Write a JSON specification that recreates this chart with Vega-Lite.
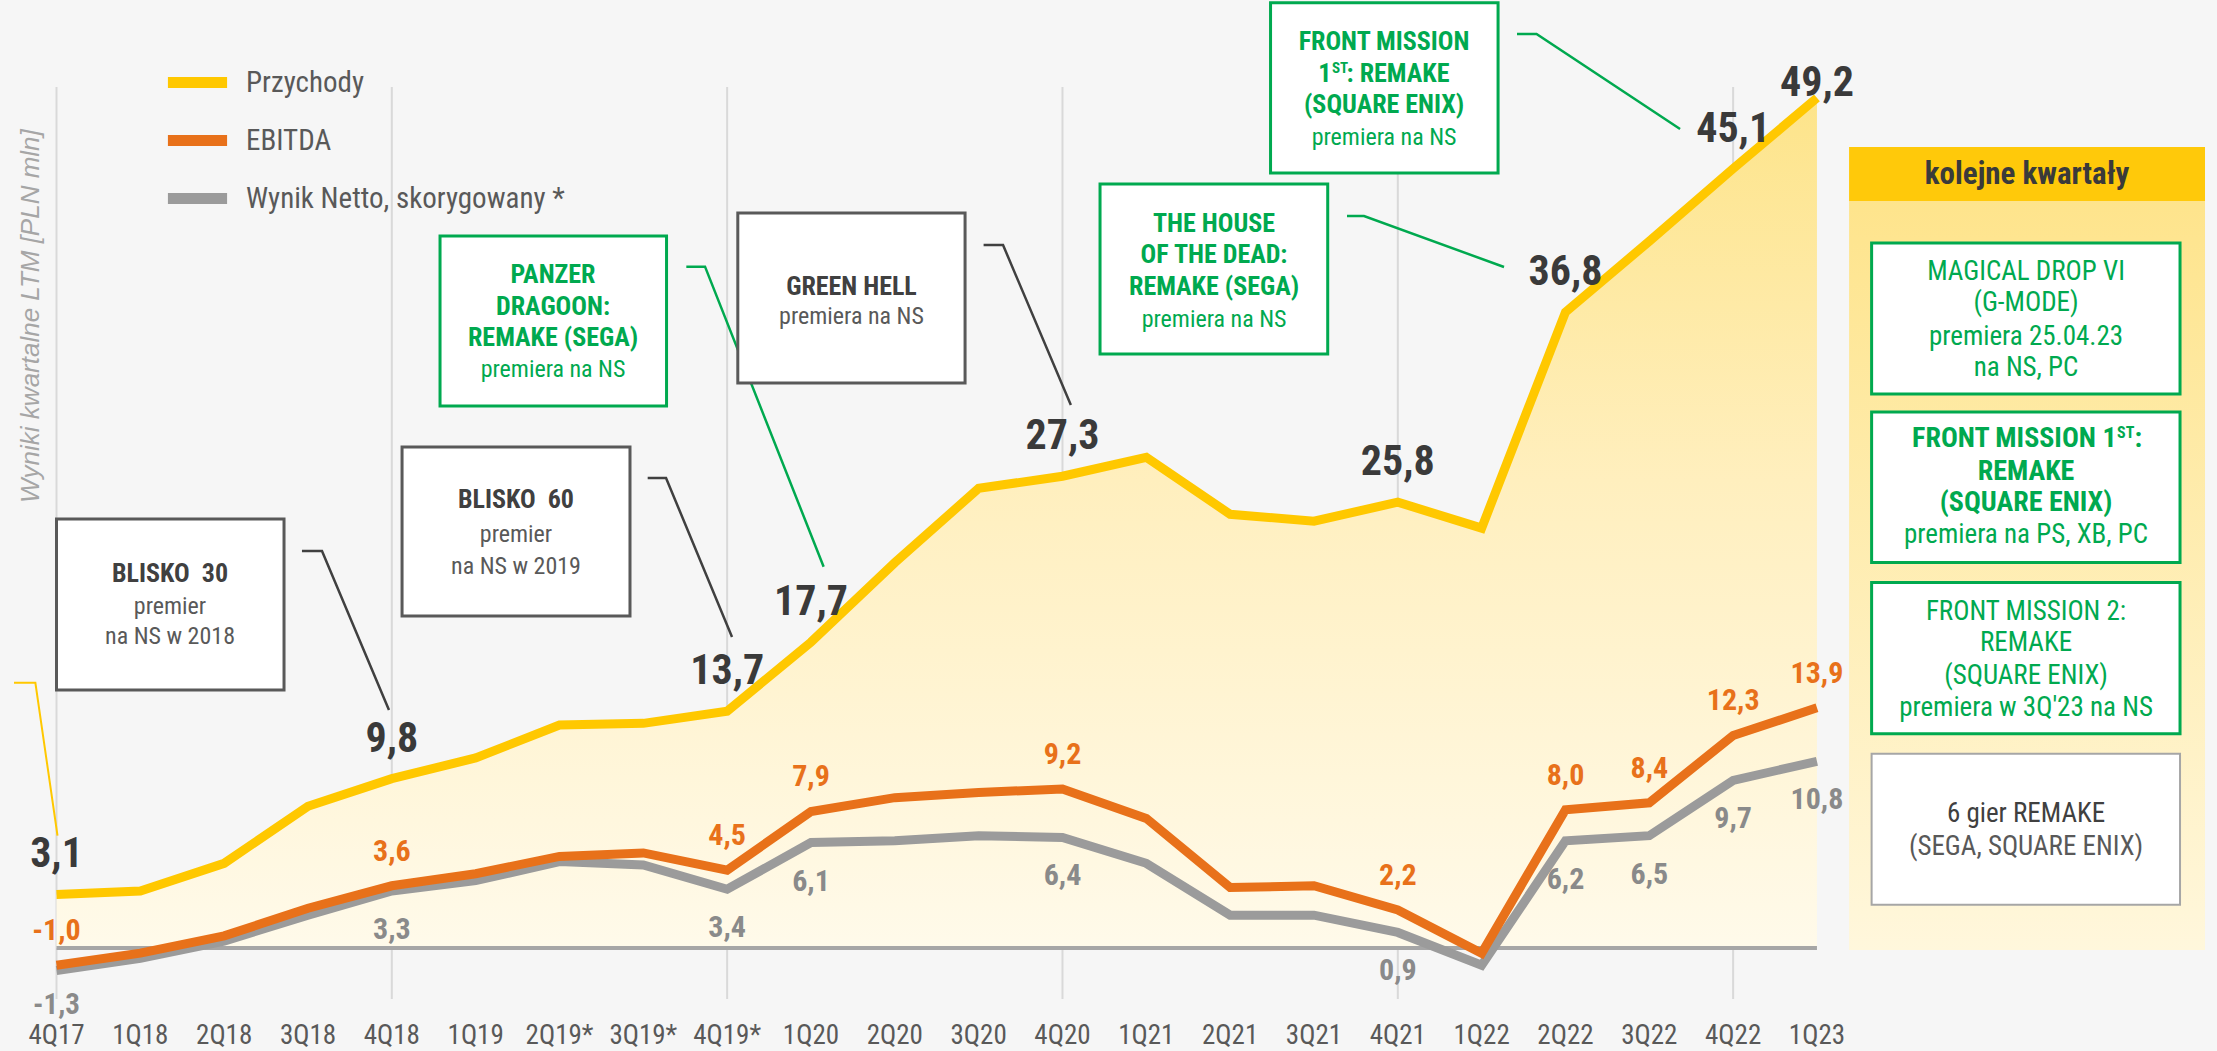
{
"$schema": "https://vega.github.io/schema/vega-lite/v6.json",
"width": 2217, "height": 1051,
"autosize": {"type": "none"},
"padding": 0,
"background": "#f6f6f6",
"config": {"view": {"stroke": null}, "font": "Liberation Sans Narrow, Roboto Condensed, DejaVu Sans Condensed, sans-serif",
  "locale": {"number": {"decimal": ",", "thousands": " ", "grouping": [3], "currency": ["", " zł"], "minus": "-"}}},
"datasets": {
"q": [
{"i":0,"q":"4Q17","rev":3.1,"ebitda":-1.0,"net":-1.3},
{"i":1,"q":"1Q18","rev":3.3,"ebitda":-0.3,"net":-0.6},
{"i":2,"q":"2Q18","rev":4.9,"ebitda":0.7,"net":0.4},
{"i":3,"q":"3Q18","rev":8.2,"ebitda":2.3,"net":1.9},
{"i":4,"q":"4Q18","rev":9.8,"ebitda":3.6,"net":3.3},
{"i":5,"q":"1Q19","rev":11.0,"ebitda":4.3,"net":3.9},
{"i":6,"q":"2Q19*","rev":12.9,"ebitda":5.3,"net":5.0},
{"i":7,"q":"3Q19*","rev":13.0,"ebitda":5.5,"net":4.8},
{"i":8,"q":"4Q19*","rev":13.7,"ebitda":4.5,"net":3.4},
{"i":9,"q":"1Q20","rev":17.7,"ebitda":7.9,"net":6.1},
{"i":10,"q":"2Q20","rev":22.3,"ebitda":8.7,"net":6.2},
{"i":11,"q":"3Q20","rev":26.6,"ebitda":9.0,"net":6.5},
{"i":12,"q":"4Q20","rev":27.3,"ebitda":9.2,"net":6.4},
{"i":13,"q":"1Q21","rev":28.4,"ebitda":7.5,"net":4.9},
{"i":14,"q":"2Q21","rev":25.1,"ebitda":3.5,"net":1.9},
{"i":15,"q":"3Q21","rev":24.7,"ebitda":3.6,"net":1.9},
{"i":16,"q":"4Q21","rev":25.8,"ebitda":2.2,"net":0.9},
{"i":17,"q":"1Q22","rev":24.3,"ebitda":-0.3,"net":-1.0},
{"i":18,"q":"2Q22","rev":36.8,"ebitda":8.0,"net":6.2},
{"i":19,"q":"3Q22","rev":40.9,"ebitda":8.4,"net":6.5},
{"i":20,"q":"4Q22","rev":45.1,"ebitda":12.3,"net":9.7},
{"i":21,"q":"1Q23","rev":49.2,"ebitda":13.9,"net":10.8}
],
"boxes": [
{"k":"b","x1":21.383,"x2":25.629,"y1":43.23,"y2":-0.116},
{"k":"h","x1":21.383,"x2":25.629,"y1":46.35,"y2":43.23},
{"k":"d","x1":0.0,"x2":2.714,"y1":24.83,"y2":14.93},
{"k":"d","x1":4.122,"x2":6.841,"y1":28.99,"y2":19.21},
{"k":"g","x1":4.575,"x2":7.277,"y1":41.20,"y2":31.37},
{"k":"d","x1":8.127,"x2":10.838,"y1":42.53,"y2":32.70},
{"k":"g","x1":12.448,"x2":15.164,"y1":44.21,"y2":34.38},
{"k":"g","x1":14.482,"x2":17.196,"y1":54.70,"y2":44.85},
{"k":"g","x1":21.652,"x2":25.331,"y1":40.80,"y2":32.06},
{"k":"g","x1":21.652,"x2":25.331,"y1":31.02,"y2":22.31},
{"k":"g","x1":21.652,"x2":25.331,"y1":21.15,"y2":12.40},
{"k":"l","x1":21.652,"x2":25.331,"y1":11.24,"y2":2.50}
],
"leaders": [
{"id":1,"o":1,"k":"d","x":2.928,"y":22.97},{"id":1,"o":2,"k":"d","x":3.167,"y":22.97},{"id":1,"o":3,"k":"d","x":3.966,"y":13.77},
{"id":2,"o":1,"k":"d","x":7.052,"y":27.2},{"id":2,"o":2,"k":"d","x":7.271,"y":27.2},{"id":2,"o":3,"k":"d","x":8.058,"y":18.0},
{"id":3,"o":1,"k":"g","x":7.513,"y":39.43},{"id":3,"o":2,"k":"g","x":7.736,"y":39.43},{"id":3,"o":3,"k":"g","x":9.151,"y":22.06},
{"id":4,"o":1,"k":"d","x":11.059,"y":40.68},{"id":4,"o":2,"k":"d","x":11.291,"y":40.68},{"id":4,"o":3,"k":"d","x":12.1,"y":31.42},
{"id":5,"o":1,"k":"g","x":15.394,"y":42.36},{"id":5,"o":2,"k":"g","x":15.597,"y":42.36},{"id":5,"o":3,"k":"g","x":17.267,"y":39.41},
{"id":6,"o":1,"k":"g","x":17.422,"y":52.89},{"id":6,"o":2,"k":"g","x":17.655,"y":52.89},{"id":6,"o":3,"k":"g","x":19.367,"y":47.40},
{"id":7,"o":1,"k":"y","x":-0.507,"y":15.35},{"id":7,"o":2,"k":"y","x":-0.252,"y":15.35},{"id":7,"o":3,"k":"y","x":0.012,"y":6.50}
],
"texts": [
{"k":"yt","x":-0.304,"y":36.57,"t":"Wyniki kwartalne LTM [PLN mln]"},
{"k":"db","x":1.354,"y":21.64,"t":"BLISKO \u00a030"},
{"k":"dr","x":1.354,"y":19.73,"t":"premier"},
{"k":"dr","x":1.354,"y":18.0,"t":"na NS w 2018"},
{"k":"db","x":5.481,"y":25.93,"t":"BLISKO \u00a060"},
{"k":"dr","x":5.481,"y":23.90,"t":"premier"},
{"k":"dr","x":5.481,"y":22.05,"t":"na NS w 2019"},
{"k":"gb","x":5.923,"y":38.95,"t":"PANZER"},
{"k":"gb","x":5.923,"y":37.10,"t":"DRAGOON:"},
{"k":"gb","x":5.923,"y":35.30,"t":"REMAKE (SEGA)"},
{"k":"gr","x":5.923,"y":33.45,"t":"premiera na NS"},
{"k":"db","x":9.483,"y":38.25,"t":"GREEN HELL"},
{"k":"dr","x":9.483,"y":36.52,"t":"premiera na NS"},
{"k":"gb","x":13.808,"y":41.90,"t":"THE HOUSE"},
{"k":"gb","x":13.808,"y":40.10,"t":"OF THE DEAD:"},
{"k":"gb","x":13.808,"y":38.25,"t":"REMAKE (SEGA)"},
{"k":"gr","x":13.808,"y":36.34,"t":"premiera na NS"},
{"k":"gb","x":15.836,"y":52.43,"t":"FRONT MISSION"},
{"k":"gbR","x":15.207,"y":50.58,"t":"1"},
{"k":"sup","x":15.215,"y":50.90,"t":"ST"},
{"k":"gbL","x":15.389,"y":50.58,"t":": REMAKE"},
{"k":"gb","x":15.836,"y":48.78,"t":"(SQUARE ENIX)"},
{"k":"gr","x":15.836,"y":46.88,"t":"premiera na NS"},
{"k":"hd","x":23.506,"y":44.73,"t":"kolejne kwartały"},
{"k":"pgr","x":23.494,"y":39.12,"t":"MAGICAL DROP VI"},
{"k":"pgr","x":23.494,"y":37.33,"t":"(G-MODE)"},
{"k":"pgr","x":23.494,"y":35.36,"t":"premiera 25.04.23"},
{"k":"pgr","x":23.494,"y":33.56,"t":"na NS, PC"},
{"k":"pgbR","x":24.574,"y":29.46,"t":"FRONT MISSION 1"},
{"k":"psup","x":24.580,"y":29.80,"t":"ST"},
{"k":"pgbL","x":24.788,"y":29.46,"t":":"},
{"k":"pgb","x":23.494,"y":27.55,"t":"REMAKE"},
{"k":"pgb","x":23.494,"y":25.75,"t":"(SQUARE ENIX)"},
{"k":"pgr","x":23.494,"y":23.90,"t":"premiera na PS, XB, PC"},
{"k":"pgr","x":23.494,"y":19.46,"t":"FRONT MISSION 2:"},
{"k":"pgr","x":23.494,"y":17.65,"t":"REMAKE"},
{"k":"pgr","x":23.494,"y":15.76,"t":"(SQUARE ENIX)"},
{"k":"pgr","x":23.494,"y":13.89,"t":"premiera w 3Q'23 na NS"},
{"k":"pdk","x":23.494,"y":7.73,"t":"6 gier REMAKE"},
{"k":"pdr","x":23.494,"y":5.84,"t":"(SEGA, SQUARE ENIX)"}
]
},
"layer": [
{"data": {"name": "q"}, "transform": [{"filter": "datum.i % 4 == 0"}],
 "mark": {"type": "rule", "color": "#d9d9d9", "strokeWidth": 2},
 "encoding": {"x": {"field": "i", "type": "quantitative", "scale": {"domain": [-0.674, 25.772], "nice": false, "zero": false}, "axis": null},
   "y": {"datum": 49.83, "type": "quantitative", "scale": {"domain": [-5.961, 54.861], "nice": false, "zero": false}, "axis": null},
   "y2": {"datum": -2.95}}},
{"data": {"name": "q"},
 "mark": {"type": "area", "color": {"gradient": "linear", "x1": 0, "y1": 1, "x2": 0, "y2": 0, "stops": [{"offset": 0, "color": "#fffaea"}, {"offset": 0.55, "color": "#ffefbe"}, {"offset": 1, "color": "#fde48a"}]}},
 "encoding": {"x": {"field": "i", "type": "quantitative", "scale": {"domain": [-0.674, 25.772], "nice": false, "zero": false}, "axis": null},
   "y": {"field": "rev", "type": "quantitative", "scale": {"domain": [-5.961, 54.861], "nice": false, "zero": false}, "axis": null},
   "y2": {"datum": 0}}},
{"data": {"values": [{"a": 0}]},
 "mark": {"type": "rule", "color": "#a6a6a6", "strokeWidth": 4},
 "encoding": {"x": {"datum": 0, "type": "quantitative", "scale": {"domain": [-0.674, 25.772], "nice": false, "zero": false}, "axis": null}, "x2": {"datum": 21},
   "y": {"datum": 0, "type": "quantitative", "scale": {"domain": [-5.961, 54.861], "nice": false, "zero": false}, "axis": null}}},
{"data": {"name": "q"},
 "mark": {"type": "text", "fontSize": 27, "color": "#595959", "baseline": "middle", "align": "center"},
 "encoding": {"x": {"field": "i", "type": "quantitative", "scale": {"domain": [-0.674, 25.772], "nice": false, "zero": false}, "axis": null},
   "y": {"datum": -5.12, "type": "quantitative", "scale": {"domain": [-5.961, 54.861], "nice": false, "zero": false}, "axis": null},
   "text": {"field": "q"}}},
{"data": {"name": "q"},
 "mark": {"type": "line", "strokeWidth": 9},
 "encoding": {"x": {"field": "i", "type": "quantitative", "scale": {"domain": [-0.674, 25.772], "nice": false, "zero": false}, "axis": null},
   "y": {"field": "rev", "type": "quantitative", "scale": {"domain": [-5.961, 54.861], "nice": false, "zero": false}, "axis": null},
   "color": {"datum": "Przychody", "type": "nominal", "scale": {"domain": ["Przychody", "EBITDA", "Wynik Netto, skorygowany *"], "range": ["#ffc800", "#e8711a", "#9b9b9b"]},
     "legend": {"orient": "none", "legendX": 162, "legendY": 47, "title": null, "symbolType": "stroke", "symbolStrokeWidth": 11, "symbolSize": 3500, "labelFontSize": 29, "labelColor": "#595959", "labelOffset": 13, "labelLimit": 0, "rowPadding": -8, "padding": 0, "symbolOpacity": 1}}}},
{"data": {"name": "q"},
 "mark": {"type": "line", "strokeWidth": 9},
 "encoding": {"x": {"field": "i", "type": "quantitative", "scale": {"domain": [-0.674, 25.772], "nice": false, "zero": false}, "axis": null},
   "y": {"field": "net", "type": "quantitative", "scale": {"domain": [-5.961, 54.861], "nice": false, "zero": false}, "axis": null},
   "color": {"datum": "Wynik Netto, skorygowany *", "type": "nominal", "legend": null}}},
{"data": {"name": "q"},
 "mark": {"type": "line", "strokeWidth": 9},
 "encoding": {"x": {"field": "i", "type": "quantitative", "scale": {"domain": [-0.674, 25.772], "nice": false, "zero": false}, "axis": null},
   "y": {"field": "ebitda", "type": "quantitative", "scale": {"domain": [-5.961, 54.861], "nice": false, "zero": false}, "axis": null},
   "color": {"datum": "EBITDA", "type": "nominal", "legend": null}}},
{"data": {"name": "q"}, "transform": [{"filter": "indexof([0,4,8,9,12,16,18,20], datum.i) >= 0"}],
 "mark": {"type": "text", "fontSize": 42, "fontWeight": "bold", "color": "#3a3a3a", "baseline": "middle", "align": "center", "dy": -40},
 "encoding": {"x": {"field": "i", "type": "quantitative", "scale": {"domain": [-0.674, 25.772], "nice": false, "zero": false}, "axis": null},
   "y": {"field": "rev", "type": "quantitative", "scale": {"domain": [-5.961, 54.861], "nice": false, "zero": false}, "axis": null},
   "text": {"field": "rev", "type": "quantitative", "format": ".1f"}}},
{"data": {"name": "q"}, "transform": [{"filter": "datum.i == 21"}],
 "mark": {"type": "text", "fontSize": 42, "fontWeight": "bold", "color": "#3a3a3a", "baseline": "middle", "align": "center", "dy": -15},
 "encoding": {"x": {"field": "i", "type": "quantitative", "scale": {"domain": [-0.674, 25.772], "nice": false, "zero": false}, "axis": null},
   "y": {"field": "rev", "type": "quantitative", "scale": {"domain": [-5.961, 54.861], "nice": false, "zero": false}, "axis": null},
   "text": {"field": "rev", "type": "quantitative", "format": ".1f"}}},
{"data": {"name": "q"}, "transform": [{"filter": "indexof([0,4,8,9,12,16,18,19,20,21], datum.i) >= 0"}],
 "mark": {"type": "text", "fontSize": 30, "fontWeight": "bold", "color": "#e8711a", "baseline": "middle", "align": "center", "dy": -34},
 "encoding": {"x": {"field": "i", "type": "quantitative", "scale": {"domain": [-0.674, 25.772], "nice": false, "zero": false}, "axis": null},
   "y": {"field": "ebitda", "type": "quantitative", "scale": {"domain": [-5.961, 54.861], "nice": false, "zero": false}, "axis": null},
   "text": {"field": "ebitda", "type": "quantitative", "format": ".1f"}}},
{"data": {"name": "q"}, "transform": [{"filter": "indexof([4,8,9,12,16,18,19,20,21], datum.i) >= 0"}],
 "mark": {"type": "text", "fontSize": 30, "fontWeight": "bold", "color": "#8a8a8a", "baseline": "middle", "align": "center", "dy": 39},
 "encoding": {"x": {"field": "i", "type": "quantitative", "scale": {"domain": [-0.674, 25.772], "nice": false, "zero": false}, "axis": null},
   "y": {"field": "net", "type": "quantitative", "scale": {"domain": [-5.961, 54.861], "nice": false, "zero": false}, "axis": null},
   "text": {"field": "net", "type": "quantitative", "format": ".1f"}}},
{"data": {"name": "q"}, "transform": [{"filter": "datum.i == 0"}],
 "mark": {"type": "text", "fontSize": 29, "fontWeight": "bold", "color": "#8a8a8a", "baseline": "middle", "align": "center", "dy": 35},
 "encoding": {"x": {"field": "i", "type": "quantitative", "scale": {"domain": [-0.674, 25.772], "nice": false, "zero": false}, "axis": null},
   "y": {"field": "net", "type": "quantitative", "scale": {"domain": [-5.961, 54.861], "nice": false, "zero": false}, "axis": null},
   "text": {"field": "net", "type": "quantitative", "format": ".1f"}}},
{"data": {"name": "leaders"}, "transform": [{"filter": "datum.k == 'd'"}],
 "mark": {"type": "line", "color": "#404040", "strokeWidth": 2.5},
 "encoding": {"x": {"field": "x", "type": "quantitative", "scale": {"domain": [-0.674, 25.772], "nice": false, "zero": false}, "axis": null},
   "y": {"field": "y", "type": "quantitative", "scale": {"domain": [-5.961, 54.861], "nice": false, "zero": false}, "axis": null},
   "detail": {"field": "id"}, "order": {"field": "o"}}},
{"data": {"name": "leaders"}, "transform": [{"filter": "datum.k == 'g'"}],
 "mark": {"type": "line", "color": "#00a94f", "strokeWidth": 2.5},
 "encoding": {"x": {"field": "x", "type": "quantitative", "scale": {"domain": [-0.674, 25.772], "nice": false, "zero": false}, "axis": null},
   "y": {"field": "y", "type": "quantitative", "scale": {"domain": [-5.961, 54.861], "nice": false, "zero": false}, "axis": null},
   "detail": {"field": "id"}, "order": {"field": "o"}}},
{"data": {"name": "leaders"}, "transform": [{"filter": "datum.k == 'y'"}],
 "mark": {"type": "line", "color": "#ffc800", "strokeWidth": 2},
 "encoding": {"x": {"field": "x", "type": "quantitative", "scale": {"domain": [-0.674, 25.772], "nice": false, "zero": false}, "axis": null},
   "y": {"field": "y", "type": "quantitative", "scale": {"domain": [-5.961, 54.861], "nice": false, "zero": false}, "axis": null},
   "detail": {"field": "id"}, "order": {"field": "o"}}},
{"data": {"name": "boxes"}, "transform": [{"filter": "datum.k == 'b'"}],
 "mark": {"type": "rect", "color": {"gradient": "linear", "x1": 0, "y1": 0, "x2": 0, "y2": 1, "stops": [{"offset": 0, "color": "#fee48c"}, {"offset": 1, "color": "#fff7dc"}]}},
 "encoding": {"x": {"field": "x1", "type": "quantitative", "scale": {"domain": [-0.674, 25.772], "nice": false, "zero": false}, "axis": null}, "x2": {"field": "x2"},
   "y": {"field": "y1", "type": "quantitative", "scale": {"domain": [-5.961, 54.861], "nice": false, "zero": false}, "axis": null}, "y2": {"field": "y2"}}},
{"data": {"name": "boxes"}, "transform": [{"filter": "datum.k == 'h'"}],
 "mark": {"type": "rect", "color": "#ffc90a"},
 "encoding": {"x": {"field": "x1", "type": "quantitative", "scale": {"domain": [-0.674, 25.772], "nice": false, "zero": false}, "axis": null}, "x2": {"field": "x2"},
   "y": {"field": "y1", "type": "quantitative", "scale": {"domain": [-5.961, 54.861], "nice": false, "zero": false}, "axis": null}, "y2": {"field": "y2"}}},
{"data": {"name": "boxes"}, "transform": [{"filter": "datum.k == 'g'"}],
 "mark": {"type": "rect", "fill": "#ffffff", "stroke": "#00a94f", "strokeWidth": 3},
 "encoding": {"x": {"field": "x1", "type": "quantitative", "scale": {"domain": [-0.674, 25.772], "nice": false, "zero": false}, "axis": null}, "x2": {"field": "x2"},
   "y": {"field": "y1", "type": "quantitative", "scale": {"domain": [-5.961, 54.861], "nice": false, "zero": false}, "axis": null}, "y2": {"field": "y2"}}},
{"data": {"name": "boxes"}, "transform": [{"filter": "datum.k == 'd'"}],
 "mark": {"type": "rect", "fill": "#ffffff", "stroke": "#595959", "strokeWidth": 3},
 "encoding": {"x": {"field": "x1", "type": "quantitative", "scale": {"domain": [-0.674, 25.772], "nice": false, "zero": false}, "axis": null}, "x2": {"field": "x2"},
   "y": {"field": "y1", "type": "quantitative", "scale": {"domain": [-5.961, 54.861], "nice": false, "zero": false}, "axis": null}, "y2": {"field": "y2"}}},
{"data": {"name": "boxes"}, "transform": [{"filter": "datum.k == 'l'"}],
 "mark": {"type": "rect", "fill": "#ffffff", "stroke": "#a6a6a6", "strokeWidth": 2},
 "encoding": {"x": {"field": "x1", "type": "quantitative", "scale": {"domain": [-0.674, 25.772], "nice": false, "zero": false}, "axis": null}, "x2": {"field": "x2"},
   "y": {"field": "y1", "type": "quantitative", "scale": {"domain": [-5.961, 54.861], "nice": false, "zero": false}, "axis": null}, "y2": {"field": "y2"}}},
{"data": {"name": "texts"}, "transform": [{"filter": "datum.k == 'yt'"}],
 "mark": {"type": "text", "font": "Liberation Sans, Arial, sans-serif", "fontStyle": "italic", "fontSize": 26, "color": "#a6a6a6", "angle": 270, "baseline": "middle", "align": "center"},
 "encoding": {"x": {"field": "x", "type": "quantitative", "scale": {"domain": [-0.674, 25.772], "nice": false, "zero": false}, "axis": null},
   "y": {"field": "y", "type": "quantitative", "scale": {"domain": [-5.961, 54.861], "nice": false, "zero": false}, "axis": null}, "text": {"field": "t"}}},
{"data": {"name": "texts"}, "transform": [{"filter": "datum.k == 'db'"}],
 "mark": {"type": "text", "fontSize": 26, "fontWeight": "bold", "color": "#404040", "baseline": "middle", "align": "center"},
 "encoding": {"x": {"field": "x", "type": "quantitative", "scale": {"domain": [-0.674, 25.772], "nice": false, "zero": false}, "axis": null},
   "y": {"field": "y", "type": "quantitative", "scale": {"domain": [-5.961, 54.861], "nice": false, "zero": false}, "axis": null}, "text": {"field": "t"}}},
{"data": {"name": "texts"}, "transform": [{"filter": "datum.k == 'dr'"}],
 "mark": {"type": "text", "fontSize": 24, "color": "#595959", "baseline": "middle", "align": "center"},
 "encoding": {"x": {"field": "x", "type": "quantitative", "scale": {"domain": [-0.674, 25.772], "nice": false, "zero": false}, "axis": null},
   "y": {"field": "y", "type": "quantitative", "scale": {"domain": [-5.961, 54.861], "nice": false, "zero": false}, "axis": null}, "text": {"field": "t"}}},
{"data": {"name": "texts"}, "transform": [{"filter": "datum.k == 'gb'"}],
 "mark": {"type": "text", "fontSize": 26, "fontWeight": "bold", "color": "#00a94f", "baseline": "middle", "align": "center"},
 "encoding": {"x": {"field": "x", "type": "quantitative", "scale": {"domain": [-0.674, 25.772], "nice": false, "zero": false}, "axis": null},
   "y": {"field": "y", "type": "quantitative", "scale": {"domain": [-5.961, 54.861], "nice": false, "zero": false}, "axis": null}, "text": {"field": "t"}}},
{"data": {"name": "texts"}, "transform": [{"filter": "datum.k == 'gbR'"}],
 "mark": {"type": "text", "fontSize": 26, "fontWeight": "bold", "color": "#00a94f", "baseline": "middle", "align": "right"},
 "encoding": {"x": {"field": "x", "type": "quantitative", "scale": {"domain": [-0.674, 25.772], "nice": false, "zero": false}, "axis": null},
   "y": {"field": "y", "type": "quantitative", "scale": {"domain": [-5.961, 54.861], "nice": false, "zero": false}, "axis": null}, "text": {"field": "t"}}},
{"data": {"name": "texts"}, "transform": [{"filter": "datum.k == 'gbL'"}],
 "mark": {"type": "text", "fontSize": 26, "fontWeight": "bold", "color": "#00a94f", "baseline": "middle", "align": "left"},
 "encoding": {"x": {"field": "x", "type": "quantitative", "scale": {"domain": [-0.674, 25.772], "nice": false, "zero": false}, "axis": null},
   "y": {"field": "y", "type": "quantitative", "scale": {"domain": [-5.961, 54.861], "nice": false, "zero": false}, "axis": null}, "text": {"field": "t"}}},
{"data": {"name": "texts"}, "transform": [{"filter": "datum.k == 'sup'"}],
 "mark": {"type": "text", "fontSize": 15, "fontWeight": "bold", "color": "#00a94f", "baseline": "middle", "align": "left"},
 "encoding": {"x": {"field": "x", "type": "quantitative", "scale": {"domain": [-0.674, 25.772], "nice": false, "zero": false}, "axis": null},
   "y": {"field": "y", "type": "quantitative", "scale": {"domain": [-5.961, 54.861], "nice": false, "zero": false}, "axis": null}, "text": {"field": "t"}}},
{"data": {"name": "texts"}, "transform": [{"filter": "datum.k == 'gr'"}],
 "mark": {"type": "text", "fontSize": 24, "color": "#00a94f", "baseline": "middle", "align": "center"},
 "encoding": {"x": {"field": "x", "type": "quantitative", "scale": {"domain": [-0.674, 25.772], "nice": false, "zero": false}, "axis": null},
   "y": {"field": "y", "type": "quantitative", "scale": {"domain": [-5.961, 54.861], "nice": false, "zero": false}, "axis": null}, "text": {"field": "t"}}},
{"data": {"name": "texts"}, "transform": [{"filter": "datum.k == 'hd'"}],
 "mark": {"type": "text", "fontSize": 31, "fontWeight": "bold", "color": "#3a3a3a", "baseline": "middle", "align": "center"},
 "encoding": {"x": {"field": "x", "type": "quantitative", "scale": {"domain": [-0.674, 25.772], "nice": false, "zero": false}, "axis": null},
   "y": {"field": "y", "type": "quantitative", "scale": {"domain": [-5.961, 54.861], "nice": false, "zero": false}, "axis": null}, "text": {"field": "t"}}},
{"data": {"name": "texts"}, "transform": [{"filter": "datum.k == 'pgr'"}],
 "mark": {"type": "text", "fontSize": 27, "color": "#00a94f", "baseline": "middle", "align": "center"},
 "encoding": {"x": {"field": "x", "type": "quantitative", "scale": {"domain": [-0.674, 25.772], "nice": false, "zero": false}, "axis": null},
   "y": {"field": "y", "type": "quantitative", "scale": {"domain": [-5.961, 54.861], "nice": false, "zero": false}, "axis": null}, "text": {"field": "t"}}},
{"data": {"name": "texts"}, "transform": [{"filter": "datum.k == 'pgb'"}],
 "mark": {"type": "text", "fontSize": 28, "fontWeight": "bold", "color": "#00a94f", "baseline": "middle", "align": "center"},
 "encoding": {"x": {"field": "x", "type": "quantitative", "scale": {"domain": [-0.674, 25.772], "nice": false, "zero": false}, "axis": null},
   "y": {"field": "y", "type": "quantitative", "scale": {"domain": [-5.961, 54.861], "nice": false, "zero": false}, "axis": null}, "text": {"field": "t"}}},
{"data": {"name": "texts"}, "transform": [{"filter": "datum.k == 'pgbR'"}],
 "mark": {"type": "text", "fontSize": 28, "fontWeight": "bold", "color": "#00a94f", "baseline": "middle", "align": "right"},
 "encoding": {"x": {"field": "x", "type": "quantitative", "scale": {"domain": [-0.674, 25.772], "nice": false, "zero": false}, "axis": null},
   "y": {"field": "y", "type": "quantitative", "scale": {"domain": [-5.961, 54.861], "nice": false, "zero": false}, "axis": null}, "text": {"field": "t"}}},
{"data": {"name": "texts"}, "transform": [{"filter": "datum.k == 'pgbL'"}],
 "mark": {"type": "text", "fontSize": 28, "fontWeight": "bold", "color": "#00a94f", "baseline": "middle", "align": "left"},
 "encoding": {"x": {"field": "x", "type": "quantitative", "scale": {"domain": [-0.674, 25.772], "nice": false, "zero": false}, "axis": null},
   "y": {"field": "y", "type": "quantitative", "scale": {"domain": [-5.961, 54.861], "nice": false, "zero": false}, "axis": null}, "text": {"field": "t"}}},
{"data": {"name": "texts"}, "transform": [{"filter": "datum.k == 'psup'"}],
 "mark": {"type": "text", "fontSize": 16, "fontWeight": "bold", "color": "#00a94f", "baseline": "middle", "align": "left"},
 "encoding": {"x": {"field": "x", "type": "quantitative", "scale": {"domain": [-0.674, 25.772], "nice": false, "zero": false}, "axis": null},
   "y": {"field": "y", "type": "quantitative", "scale": {"domain": [-5.961, 54.861], "nice": false, "zero": false}, "axis": null}, "text": {"field": "t"}}},
{"data": {"name": "texts"}, "transform": [{"filter": "datum.k == 'pdk'"}],
 "mark": {"type": "text", "fontSize": 27, "color": "#404040", "baseline": "middle", "align": "center"},
 "encoding": {"x": {"field": "x", "type": "quantitative", "scale": {"domain": [-0.674, 25.772], "nice": false, "zero": false}, "axis": null},
   "y": {"field": "y", "type": "quantitative", "scale": {"domain": [-5.961, 54.861], "nice": false, "zero": false}, "axis": null}, "text": {"field": "t"}}},
{"data": {"name": "texts"}, "transform": [{"filter": "datum.k == 'pdr'"}],
 "mark": {"type": "text", "fontSize": 27, "color": "#595959", "baseline": "middle", "align": "center"},
 "encoding": {"x": {"field": "x", "type": "quantitative", "scale": {"domain": [-0.674, 25.772], "nice": false, "zero": false}, "axis": null},
   "y": {"field": "y", "type": "quantitative", "scale": {"domain": [-5.961, 54.861], "nice": false, "zero": false}, "axis": null}, "text": {"field": "t"}}}
]
}
